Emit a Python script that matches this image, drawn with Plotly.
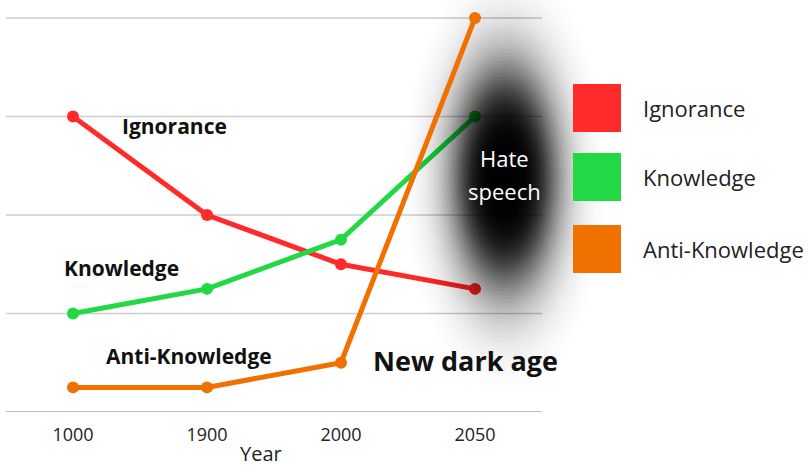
import numpy as np
import plotly.graph_objects as go

years = ["1000", "1900", "2000", "2050"]
ignorance = [3.0, 2.0, 1.5, 1.25]
knowledge = [1.0, 1.25, 1.75, 3.0]
anti_knowledge = [0.25, 0.25, 0.5, 4.0]
series_names = ["Ignorance", "Knowledge", "Anti-Knowledge"]
colors = ["#ff2b2b", "#22d844", "#f07000"]
grid_levels = [1, 2, 3, 4]

W, H = 810, 466
B = 54                      # bottom margin (axis at pixel 412)
AX_Y = H - B                # pixel row of y = 0
UNIT = 98.5                 # pixels per y unit
CAT0, STEP = 73, 134        # pixel x of first category, spacing

x_range = [(0 - CAT0) / STEP, (W - CAT0) / STEP]
y_range = [0, AX_Y / UNIT]

fig = go.Figure()

# Ignorance & Knowledge on the main axes (beneath the dark cloud)
for name, vals, c in zip(series_names[:2], [ignorance, knowledge], colors[:2]):
    fig.add_trace(go.Scatter(
        x=years, y=vals, name=name, mode="lines+markers",
        line=dict(color=c, width=5), marker=dict(color=c, size=12),
        cliponaxis=False, showlegend=False, xaxis="x", yaxis="y",
    ))

# dark blurred cloud, in pixel coordinates on an overlay axis pair
cx, cy, a, b = 505, 178, 52, 110
R_MAX, K = 2.0, 4.5
radii = np.linspace(R_MAX, 0.25, 50)
theta = np.linspace(0, 2 * np.pi, 100)
floor = 0.99 / (1 + R_MAX ** K)
prev = 0.0
for r in radii:
    target = (0.99 / (1 + r ** K) - floor) / (1 - floor)
    op = max(0.0, 1 - (1 - target) / (1 - prev))
    prev = max(prev, target)
    fig.add_trace(go.Scatter(
        x=cx + a * r * np.cos(theta), y=cy + b * r * np.sin(theta),
        mode="lines", fill="toself", fillcolor=f"rgba(0,0,0,{op:.4f})",
        line=dict(width=0), hoverinfo="skip", showlegend=False,
        xaxis="x2", yaxis="y2",
    ))

# Anti-Knowledge above the cloud
fig.add_trace(go.Scatter(
    x=years, y=anti_knowledge, name=series_names[2], mode="lines+markers",
    line=dict(color=colors[2], width=5), marker=dict(color=colors[2], size=12),
    cliponaxis=False, showlegend=False, xaxis="x3", yaxis="y3",
))

shapes = []
for g in grid_levels:
    shapes.append(dict(type="line", xref="x", yref="y", layer="below",
                       x0=-0.5, x1=3.5, y0=g, y1=g,
                       line=dict(color="#cdcdcd", width=1.5)))
shapes.append(dict(type="line", xref="x", yref="y", layer="below",
                   x0=-0.5, x1=3.5, y0=0, y1=0,
                   line=dict(color="#a8a8a8", width=1.6)))

def px(x):
    return x / W

def py(y):
    return (AX_Y - y) / AX_Y

leg_tops = [84, 153, 225]
annotations = []
for name, c, top in zip(series_names, colors, leg_tops):
    shapes.append(dict(
        type="rect", xref="paper", yref="paper", layer="above",
        x0=px(573), x1=px(621), y0=py(top + 48), y1=py(top),
        fillcolor=c, line=dict(width=0),
    ))
    annotations.append(dict(
        x=px(641), y=py(top + 24), text=name, xanchor="left",
        font=dict(family="Open Sans", size=22, color="#222"),
    ))

bold = dict(family="Open Sans", color="#111")
annotations += [
    dict(x=px(174), y=py(126), text="<b>Ignorance</b>", font=dict(size=21, **bold)),
    dict(x=px(121), y=py(268), text="<b>Knowledge</b>", font=dict(size=21, **bold)),
    dict(x=px(189), y=py(356), text="<b>Anti-Knowledge</b>", font=dict(size=21, **bold)),
    dict(x=px(465), y=py(360), text="<b>New dark age</b>", font=dict(size=27, **bold)),
    dict(x=px(504), y=py(158), text="Hate", font=dict(family="Open Sans", size=22, color="white")),
    dict(x=px(504), y=py(191), text="speech", font=dict(family="Open Sans", size=22, color="white")),
    dict(x=px(261), y=py(453), text="Year", font=dict(family="Open Sans", size=20, color="#222")),
]
for ann in annotations:
    ann.setdefault("xanchor", "center")
    ann.update(xref="paper", yref="paper", showarrow=False, yanchor="middle")

fig.update_layout(
    width=W, height=H, margin=dict(l=0, r=0, t=0, b=B),
    paper_bgcolor="white", plot_bgcolor="white",
    shapes=shapes, annotations=annotations,
    font=dict(family="Open Sans", color="#222"),
    xaxis=dict(type="category", range=x_range, showgrid=False, showline=False,
               zeroline=False, ticks="", ticklabelstandoff=10,
               tickfont=dict(size=18, color="#222")),
    yaxis=dict(range=y_range, showgrid=False, showticklabels=False,
               zeroline=False, ticks=""),
    xaxis2=dict(overlaying="x", range=[0, W], visible=False),
    yaxis2=dict(overlaying="y", range=[AX_Y, 0], visible=False),
    xaxis3=dict(overlaying="x", type="category", range=x_range, visible=False),
    yaxis3=dict(overlaying="y", range=y_range, visible=False),
)

fig.write_html("out.html")
